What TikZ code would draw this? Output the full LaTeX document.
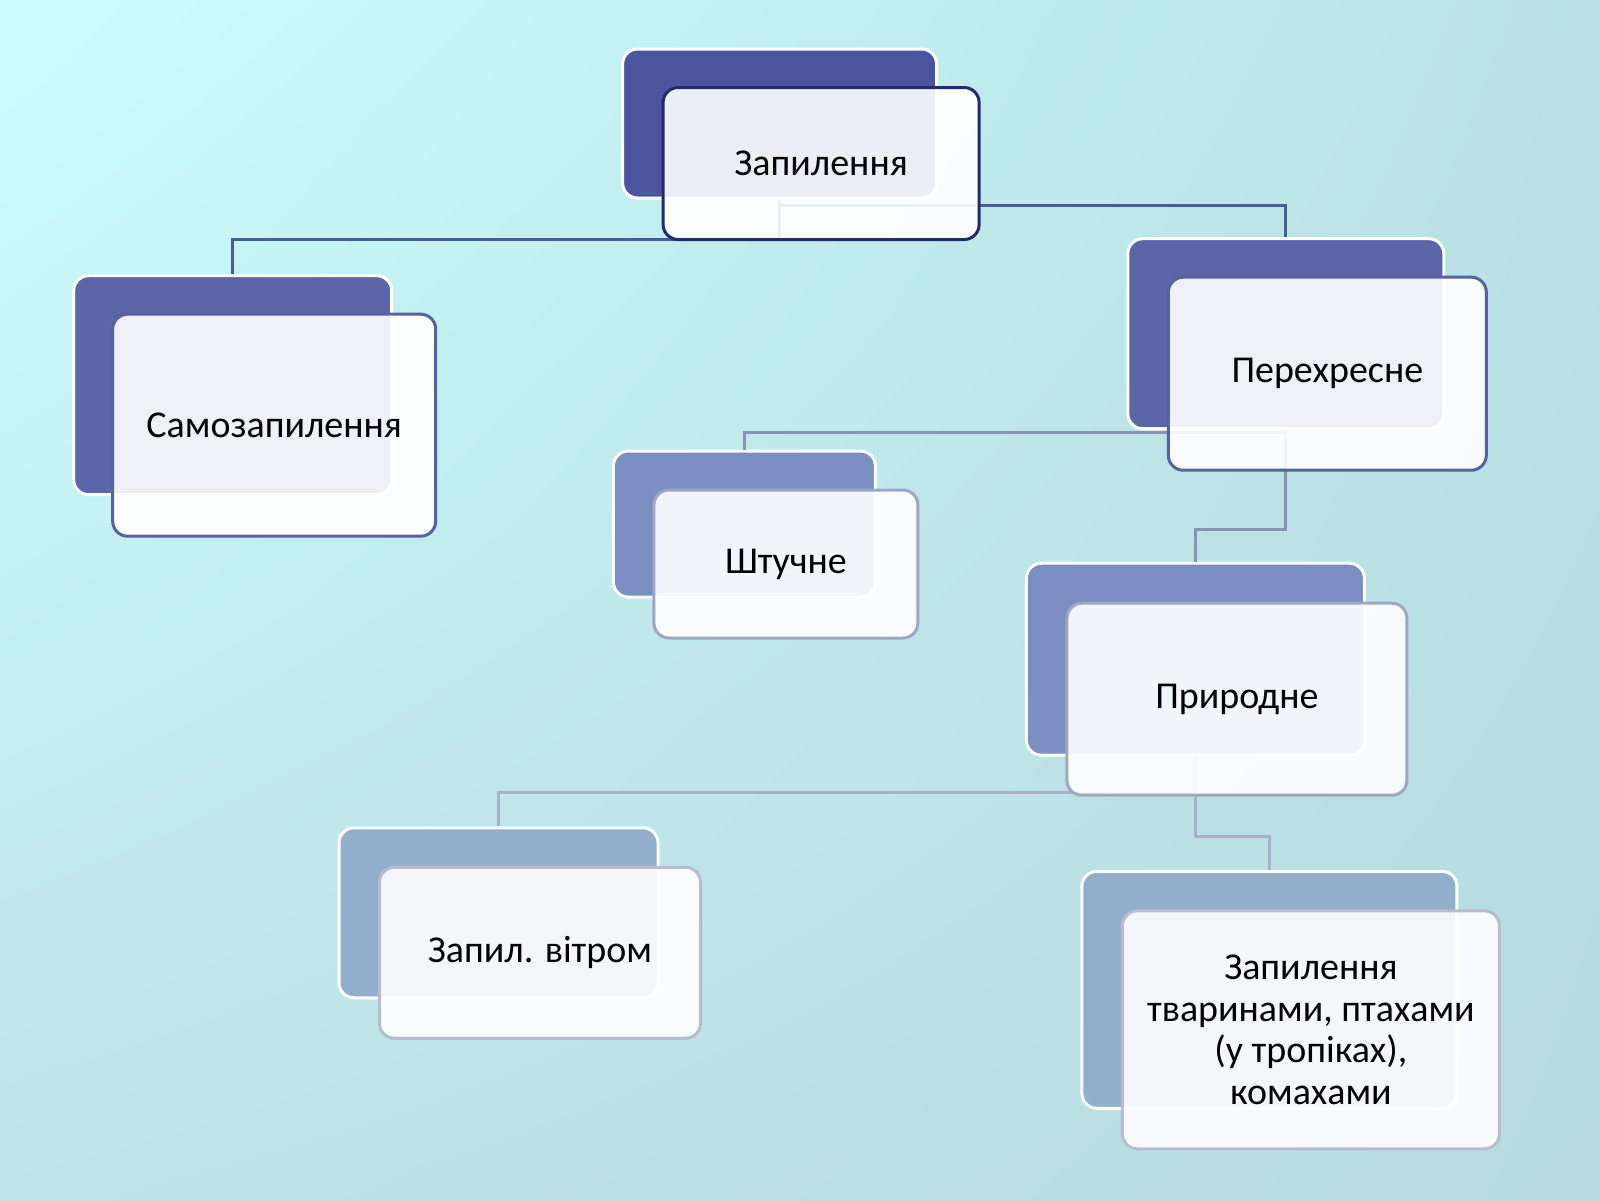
\documentclass[tikz,border=0pt]{standalone}
\usepackage{fontspec}
\setmainfont{Carlito}
\usepackage{tikz}
\usetikzlibrary{positioning, calc, shadings}
\definecolor{bgTL}{HTML}{CCFDFD}
\definecolor{bgTR}{HTML}{B9E1E4}
\definecolor{bgBL}{HTML}{BEE3E7}
\definecolor{bgBR}{HTML}{B7DBDF}
\definecolor{lvAback}{HTML}{4B559E}
\definecolor{lvAedge}{HTML}{222A70}
\definecolor{lvBback}{HTML}{5B66A9}
\definecolor{lvBedge}{HTML}{5862A0}
\definecolor{lvCback}{HTML}{7A8FC0}
\definecolor{lvCedge}{HTML}{9EA6C3}
\definecolor{lvDback}{HTML}{93AECB}
\definecolor{lvDedge}{HTML}{B7BCD1}
\definecolor{wireA}{HTML}{4D5A98}
\definecolor{wireB}{HTML}{8893B5}
\definecolor{wireC}{HTML}{A8B1C7}
\tikzset{
  backbox/.style={draw=white, fill=#1, line width=0.03cm, rounded corners=0.15cm},
  frontbox/.style={draw=#1, fill=white, fill opacity=0.9, text opacity=1,
    line width=0.03cm, rounded corners=0.15cm, align=center,
    font=\fontsize{10.8}{11.9}\selectfont, xshift=0.415cm, yshift=-0.40cm},
  wire/.style={draw=#1, line width=0.03cm},
}
\begin{document}
\begin{tikzpicture}
            % Background
            \shade[upper left=bgTL, upper right=bgTR, lower left=bgBL, lower right=bgBR]
                (0,0) rectangle (16,-12);
            \useasboundingbox (0,0) rectangle (16,-12);

            % Back boxes
            \node[backbox=lvAback, minimum width=3.14cm, minimum height=1.49cm] (zapB) at (7.796,-1.235) {};
            \node[backbox=lvBback, minimum width=3.18cm, minimum height=2.19cm] (samoB) at (2.327,-3.852) {};
            \node[backbox=lvBback, minimum width=3.16cm, minimum height=1.90cm] (pereB) at (12.858,-3.337) {};
            \node[backbox=lvCback, minimum width=2.62cm, minimum height=1.46cm] (shtB) at (7.444,-5.240) {};
            \node[backbox=lvCback, minimum width=3.38cm, minimum height=1.92cm] (pryrB) at (11.954,-6.592) {};
            \node[backbox=lvDback, minimum width=3.19cm, minimum height=1.70cm] (vitrB) at (4.985,-9.128) {};
            \node[backbox=lvDback, minimum width=3.75cm, minimum height=2.37cm] (tvarB) at (12.694,-9.898) {};

            % Connectors
            \draw[wire=wireA] (zapB.south) -- ++(0,-0.40) -| (samoB.north);
            \draw[wire=wireA] (zapB.south) -- ++(0,-0.06) -| (pereB.north);
            \draw[wire=wireB] (pereB.south) -- ++(0,-0.02) -| (shtB.north);
            \draw[wire=wireB] (pereB.south) -- ++(0,-0.99) -| (pryrB.north);
            \draw[wire=wireC] (pryrB.south) -- ++(0,-0.357) -| (vitrB.north);
            \draw[wire=wireC] (pryrB.south) -- ++(0,-0.796) -| (tvarB.north);

            % Front boxes
            \node[frontbox=lvAedge, minimum width=3.16cm, minimum height=1.52cm] (zap) at (zapB) {Запилення};
            \node[frontbox=lvBedge, minimum width=3.23cm, minimum height=2.22cm] (samo) at (samoB) {Самозапилення};
            \node[frontbox=lvBedge, minimum width=3.18cm, minimum height=1.93cm] (pere) at (pereB) {Перехресне};
            \node[frontbox=lvCedge, minimum width=2.64cm, minimum height=1.48cm] (sht) at (shtB) {Штучне};
            \node[frontbox=lvCedge, minimum width=3.40cm, minimum height=1.92cm] (pryr) at (pryrB) {Природне};
            \node[frontbox=lvDedge, minimum width=3.21cm, minimum height=1.71cm] (vitr) at (vitrB) {Запил. вітром};
            \node[frontbox=lvDedge, minimum width=3.77cm, minimum height=2.38cm] (tvar) at (tvarB)
                {Запилення\\тваринами, птахами\\(у тропіках),\\комахами};
\end{tikzpicture}
\end{document}
